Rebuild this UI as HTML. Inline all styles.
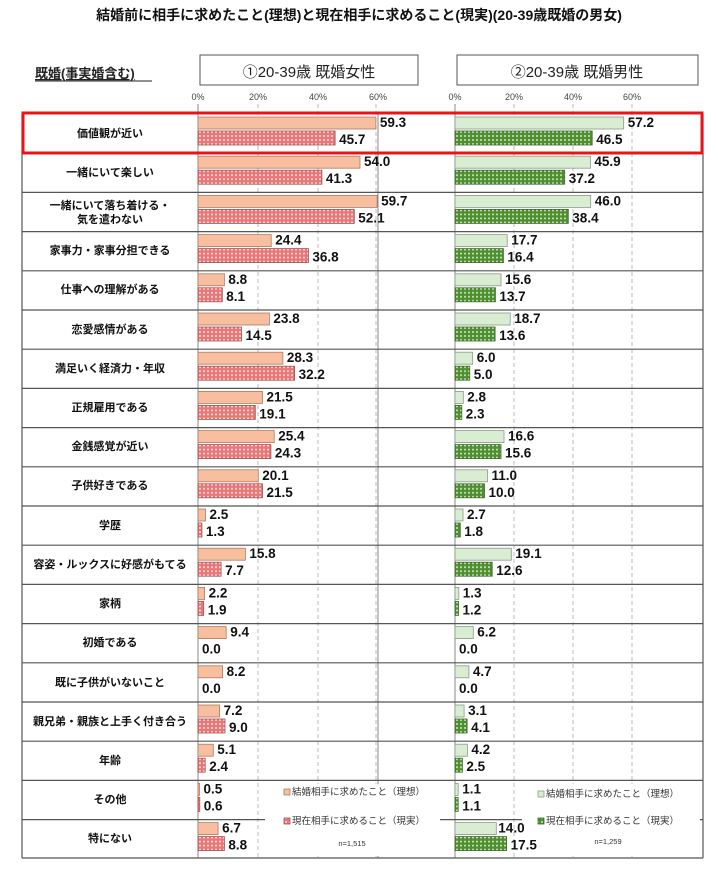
<!DOCTYPE html>
<html><head><meta charset="utf-8"><style>
body{margin:0;background:#fff;}
svg{display:block;font-family:"Liberation Sans","Noto Sans CJK JP",sans-serif;}
.v{font-size:13.5px;font-weight:bold;fill:#111;}
.l{font-size:11px;font-weight:bold;fill:#111;text-anchor:middle;}
.t{font-size:9px;fill:#444;text-anchor:middle;}
.fi{fill:#f7bfa0;stroke:#b07a60;stroke-width:0.8;}
.fr{fill:url(#pf);stroke:#a05050;stroke-width:0.8;}
.mi{fill:#d9edd2;stroke:#8a9a88;stroke-width:0.8;}
.mr{fill:url(#pm);stroke:#3a6a2a;stroke-width:0.8;}
.lg{font-size:9.5px;fill:#333;}
</style></head><body>
<svg width="718" height="869" viewBox="0 0 718 869">
<defs>
<pattern id="pf" width="4" height="4" patternUnits="userSpaceOnUse"><rect width="4" height="4" fill="#e87878"/><circle cx="2" cy="2" r="1" fill="#fde0e0"/></pattern>
<pattern id="pm" width="4" height="4" patternUnits="userSpaceOnUse"><rect width="4" height="4" fill="#4f8f32"/><circle cx="2" cy="2" r="1" fill="#cfe8c0"/></pattern>
</defs>
<text x="359" y="20" font-size="14" font-weight="bold" text-anchor="middle" fill="#111">結婚前に相手に求めたこと(理想)と現在相手に求めること(現実)(20-39歳既婚の男女)</text>
<text x="35" y="78" font-size="13" font-weight="bold" fill="#222" text-decoration="underline">既婚(事実婚含む)</text>
<line x1="35" y1="81" x2="152" y2="81" stroke="#222" stroke-width="1"/>
<rect x="200" y="55" width="218" height="30" fill="#fff" stroke="#555"/>
<text x="309" y="77" font-size="15" text-anchor="middle" fill="#222">①20-39歳 既婚女性</text>
<rect x="457" y="55" width="241" height="30" fill="#fff" stroke="#555"/>
<text x="577" y="77" font-size="15" text-anchor="middle" fill="#222">②20-39歳 既婚男性</text>
<text class="t" x="198" y="100">0%</text><text class="t" x="258" y="100">20%</text><text class="t" x="318" y="100">40%</text><text class="t" x="378" y="100">60%</text>
<text class="t" x="455" y="100">0%</text><text class="t" x="514" y="100">20%</text><text class="t" x="573" y="100">40%</text><text class="t" x="632" y="100">60%</text>
<g stroke="#aaa" stroke-dasharray="4,3" stroke-width="0.8">
<line x1="258" y1="104" x2="258" y2="858"/><line x1="318" y1="104" x2="318" y2="858"/><line x1="376" y1="104" x2="376" y2="858"/>
<line x1="514" y1="104" x2="514" y2="858"/><line x1="573" y1="104" x2="573" y2="858"/><line x1="632" y1="104" x2="632" y2="858"/>
</g>
<g stroke="#888" stroke-width="1"><line x1="198" y1="104" x2="198" y2="858"/><line x1="455" y1="104" x2="455" y2="858"/><line x1="378" y1="114" x2="378" y2="858"/></g>
<g stroke="#555" stroke-width="1.2">
<line x1="22" y1="114" x2="22" y2="858"/><line x1="703" y1="114" x2="703" y2="858"/>
<line x1="22" y1="153.2" x2="703" y2="153.2"/><line x1="22" y1="192.4" x2="703" y2="192.4"/><line x1="22" y1="231.6" x2="703" y2="231.6"/><line x1="22" y1="270.8" x2="703" y2="270.8"/><line x1="22" y1="310" x2="703" y2="310"/><line x1="22" y1="349.2" x2="703" y2="349.2"/><line x1="22" y1="388.4" x2="703" y2="388.4"/><line x1="22" y1="427.6" x2="703" y2="427.6"/><line x1="22" y1="466.8" x2="703" y2="466.8"/><line x1="22" y1="506" x2="703" y2="506"/><line x1="22" y1="545.2" x2="703" y2="545.2"/><line x1="22" y1="584.4" x2="703" y2="584.4"/><line x1="22" y1="623.6" x2="703" y2="623.6"/><line x1="22" y1="662.8" x2="703" y2="662.8"/><line x1="22" y1="702" x2="703" y2="702"/><line x1="22" y1="741.2" x2="703" y2="741.2"/><line x1="22" y1="780.4" x2="703" y2="780.4"/><line x1="22" y1="819.6" x2="703" y2="819.6"/><line x1="22" y1="858" x2="703" y2="858"/>
</g>
<g class="l">
<text x="110" y="137">価値観が近い</text>
<text x="110" y="176">一緒にいて楽しい</text>
<text x="110" y="209">一緒にいて落ち着ける・</text><text x="110" y="223">気を遣わない</text>
<text x="110" y="254">家事力・家事分担できる</text>
<text x="110" y="293">仕事への理解がある</text>
<text x="110" y="333">恋愛感情がある</text>
<text x="110" y="372">満足いく経済力・年収</text>
<text x="110" y="411">正規雇用である</text>
<text x="110" y="450">金銭感覚が近い</text>
<text x="110" y="489">子供好きである</text>
<text x="110" y="529">学歴</text>
<text x="110" y="568">容姿・ルックスに好感がもてる</text>
<text x="110" y="607">家柄</text>
<text x="110" y="646">初婚である</text>
<text x="110" y="686">既に子供がいないこと</text>
<text x="110" y="725">親兄弟・親族と上手く付き合う</text>
<text x="110" y="764">年齢</text>
<text x="110" y="803">その他</text>
<text x="110" y="842">特にない</text>
</g>
<rect x="265" y="784" width="175" height="72" fill="#fff"/>
<rect x="522" y="784" width="178" height="72" fill="#fff"/>
<rect x="284" y="789" width="6" height="6" class="fi"/><text class="lg" x="292" y="795">結婚相手に求めたこと（理想）</text>
<rect x="284" y="818" width="6" height="6" class="fr"/><text class="lg" x="292" y="824">現在相手に求めること（現実）</text>
<text x="352" y="846" font-size="7.5" fill="#333" text-anchor="middle">n=1,515</text>
<rect x="538" y="791" width="6" height="6" class="mi"/><text class="lg" x="546" y="797">結婚相手に求めたこと（理想）</text>
<rect x="538" y="818" width="6" height="6" class="mr"/><text class="lg" x="546" y="824">現在相手に求めること（現実）</text>
<text x="608" y="844" font-size="7.5" fill="#333" text-anchor="middle">n=1,259</text>

<g transform="translate(198,114)"><rect class="fi" y="3" width="177.9" height="12"/><rect class="fr" y="17" width="137.1" height="14"/><text class="v" x="181.9" y="13">59.3</text><text class="v" x="141.1" y="30">45.7</text></g>
<g transform="translate(198,153.2)"><rect class="fi" y="3" width="162" height="12"/><rect class="fr" y="17" width="123.9" height="14"/><text class="v" x="166" y="13">54.0</text><text class="v" x="127.9" y="30">41.3</text></g>
<g transform="translate(198,192.4)"><rect class="fi" y="3" width="179.1" height="12"/><rect class="fr" y="17" width="156.3" height="14"/><text class="v" x="183.1" y="13">59.7</text><text class="v" x="160.3" y="30">52.1</text></g>
<g transform="translate(198,231.6)"><rect class="fi" y="3" width="73.2" height="12"/><rect class="fr" y="17" width="110.4" height="14"/><text class="v" x="77.2" y="13">24.4</text><text class="v" x="114.4" y="30">36.8</text></g>
<g transform="translate(198,270.8)"><rect class="fi" y="3" width="26.4" height="12"/><rect class="fr" y="17" width="24.3" height="14"/><text class="v" x="30.4" y="13">8.8</text><text class="v" x="28.3" y="30">8.1</text></g>
<g transform="translate(198,310)"><rect class="fi" y="3" width="71.4" height="12"/><rect class="fr" y="17" width="43.5" height="14"/><text class="v" x="75.4" y="13">23.8</text><text class="v" x="47.5" y="30">14.5</text></g>
<g transform="translate(198,349.2)"><rect class="fi" y="3" width="84.9" height="12"/><rect class="fr" y="17" width="96.6" height="14"/><text class="v" x="88.9" y="13">28.3</text><text class="v" x="100.6" y="30">32.2</text></g>
<g transform="translate(198,388.4)"><rect class="fi" y="3" width="64.5" height="12"/><rect class="fr" y="17" width="57.3" height="14"/><text class="v" x="68.5" y="13">21.5</text><text class="v" x="61.3" y="30">19.1</text></g>
<g transform="translate(198,427.6)"><rect class="fi" y="3" width="76.2" height="12"/><rect class="fr" y="17" width="72.9" height="14"/><text class="v" x="80.2" y="13">25.4</text><text class="v" x="76.9" y="30">24.3</text></g>
<g transform="translate(198,466.8)"><rect class="fi" y="3" width="60.3" height="12"/><rect class="fr" y="17" width="64.5" height="14"/><text class="v" x="64.3" y="13">20.1</text><text class="v" x="68.5" y="30">21.5</text></g>
<g transform="translate(198,506)"><rect class="fi" y="3" width="7.5" height="12"/><rect class="fr" y="17" width="3.9" height="14"/><text class="v" x="11.5" y="13">2.5</text><text class="v" x="7.9" y="30">1.3</text></g>
<g transform="translate(198,545.2)"><rect class="fi" y="3" width="47.4" height="12"/><rect class="fr" y="17" width="23.1" height="14"/><text class="v" x="51.4" y="13">15.8</text><text class="v" x="27.1" y="30">7.7</text></g>
<g transform="translate(198,584.4)"><rect class="fi" y="3" width="6.6" height="12"/><rect class="fr" y="17" width="5.7" height="14"/><text class="v" x="10.6" y="13">2.2</text><text class="v" x="9.7" y="30">1.9</text></g>
<g transform="translate(198,623.6)"><rect class="fi" y="3" width="28.2" height="12"/><text class="v" x="32.2" y="13">9.4</text><text class="v" x="4" y="30">0.0</text></g>
<g transform="translate(198,662.8)"><rect class="fi" y="3" width="24.6" height="12"/><text class="v" x="28.6" y="13">8.2</text><text class="v" x="4" y="30">0.0</text></g>
<g transform="translate(198,702)"><rect class="fi" y="3" width="21.6" height="12"/><rect class="fr" y="17" width="27" height="14"/><text class="v" x="25.6" y="13">7.2</text><text class="v" x="31" y="30">9.0</text></g>
<g transform="translate(198,741.2)"><rect class="fi" y="3" width="15.3" height="12"/><rect class="fr" y="17" width="7.2" height="14"/><text class="v" x="19.3" y="13">5.1</text><text class="v" x="11.2" y="30">2.4</text></g>
<g transform="translate(198,780.4)"><rect class="fi" y="3" width="1.5" height="12"/><rect class="fr" y="17" width="1.8" height="14"/><text class="v" x="5.5" y="13">0.5</text><text class="v" x="5.8" y="30">0.6</text></g>
<g transform="translate(198,819.6)"><rect class="fi" y="3" width="20.1" height="12"/><rect class="fr" y="17" width="26.4" height="14"/><text class="v" x="24.1" y="13">6.7</text><text class="v" x="30.4" y="30">8.8</text></g>

<g transform="translate(455,114)"><rect class="mi" y="3" width="168.7" height="12"/><rect class="mr" y="17" width="137.2" height="14"/><text class="v" x="172.7" y="13">57.2</text><text class="v" x="141.2" y="30">46.5</text></g>
<g transform="translate(455,153.2)"><rect class="mi" y="3" width="135.4" height="12"/><rect class="mr" y="17" width="109.7" height="14"/><text class="v" x="139.4" y="13">45.9</text><text class="v" x="113.7" y="30">37.2</text></g>
<g transform="translate(455,192.4)"><rect class="mi" y="3" width="135.7" height="12"/><rect class="mr" y="17" width="113.3" height="14"/><text class="v" x="139.7" y="13">46.0</text><text class="v" x="117.3" y="30">38.4</text></g>
<g transform="translate(455,231.6)"><rect class="mi" y="3" width="52.2" height="12"/><rect class="mr" y="17" width="48.4" height="14"/><text class="v" x="56.2" y="13">17.7</text><text class="v" x="52.4" y="30">16.4</text></g>
<g transform="translate(455,270.8)"><rect class="mi" y="3" width="46" height="12"/><rect class="mr" y="17" width="40.4" height="14"/><text class="v" x="50" y="13">15.6</text><text class="v" x="44.4" y="30">13.7</text></g>
<g transform="translate(455,310)"><rect class="mi" y="3" width="55.2" height="12"/><rect class="mr" y="17" width="40.1" height="14"/><text class="v" x="59.2" y="13">18.7</text><text class="v" x="44.1" y="30">13.6</text></g>
<g transform="translate(455,349.2)"><rect class="mi" y="3" width="17.7" height="12"/><rect class="mr" y="17" width="14.75" height="14"/><text class="v" x="21.7" y="13">6.0</text><text class="v" x="18.75" y="30">5.0</text></g>
<g transform="translate(455,388.4)"><rect class="mi" y="3" width="8.3" height="12"/><rect class="mr" y="17" width="6.8" height="14"/><text class="v" x="12.3" y="13">2.8</text><text class="v" x="10.8" y="30">2.3</text></g>
<g transform="translate(455,427.6)"><rect class="mi" y="3" width="49" height="12"/><rect class="mr" y="17" width="46" height="14"/><text class="v" x="53" y="13">16.6</text><text class="v" x="50" y="30">15.6</text></g>
<g transform="translate(455,466.8)"><rect class="mi" y="3" width="32.5" height="12"/><rect class="mr" y="17" width="29.5" height="14"/><text class="v" x="36.5" y="13">11.0</text><text class="v" x="33.5" y="30">10.0</text></g>
<g transform="translate(455,506)"><rect class="mi" y="3" width="8" height="12"/><rect class="mr" y="17" width="5.3" height="14"/><text class="v" x="12" y="13">2.7</text><text class="v" x="9.3" y="30">1.8</text></g>
<g transform="translate(455,545.2)"><rect class="mi" y="3" width="56.3" height="12"/><rect class="mr" y="17" width="37.2" height="14"/><text class="v" x="60.3" y="13">19.1</text><text class="v" x="41.2" y="30">12.6</text></g>
<g transform="translate(455,584.4)"><rect class="mi" y="3" width="3.8" height="12"/><rect class="mr" y="17" width="3.5" height="14"/><text class="v" x="7.8" y="13">1.3</text><text class="v" x="7.5" y="30">1.2</text></g>
<g transform="translate(455,623.6)"><rect class="mi" y="3" width="18.3" height="12"/><text class="v" x="22.3" y="13">6.2</text><text class="v" x="4" y="30">0.0</text></g>
<g transform="translate(455,662.8)"><rect class="mi" y="3" width="13.9" height="12"/><text class="v" x="17.9" y="13">4.7</text><text class="v" x="4" y="30">0.0</text></g>
<g transform="translate(455,702)"><rect class="mi" y="3" width="9.1" height="12"/><rect class="mr" y="17" width="12.1" height="14"/><text class="v" x="13.1" y="13">3.1</text><text class="v" x="16.1" y="30">4.1</text></g>
<g transform="translate(455,741.2)"><rect class="mi" y="3" width="12.4" height="12"/><rect class="mr" y="17" width="7.4" height="14"/><text class="v" x="16.4" y="13">4.2</text><text class="v" x="11.4" y="30">2.5</text></g>
<g transform="translate(455,780.4)"><rect class="mi" y="3" width="3.2" height="12"/><rect class="mr" y="17" width="3.2" height="14"/><text class="v" x="7.2" y="13">1.1</text><text class="v" x="7.2" y="30">1.1</text></g>
<g transform="translate(455,819.6)"><rect class="mi" y="3" width="41.3" height="12"/><rect class="mr" y="17" width="51.6" height="14"/><text class="v" x="43.3" y="13">14.0</text><text class="v" x="55.6" y="30">17.5</text></g>

<rect x="23" y="113" width="679" height="40" fill="none" stroke="#e8141c" stroke-width="3"/>
</svg>
</body></html>
